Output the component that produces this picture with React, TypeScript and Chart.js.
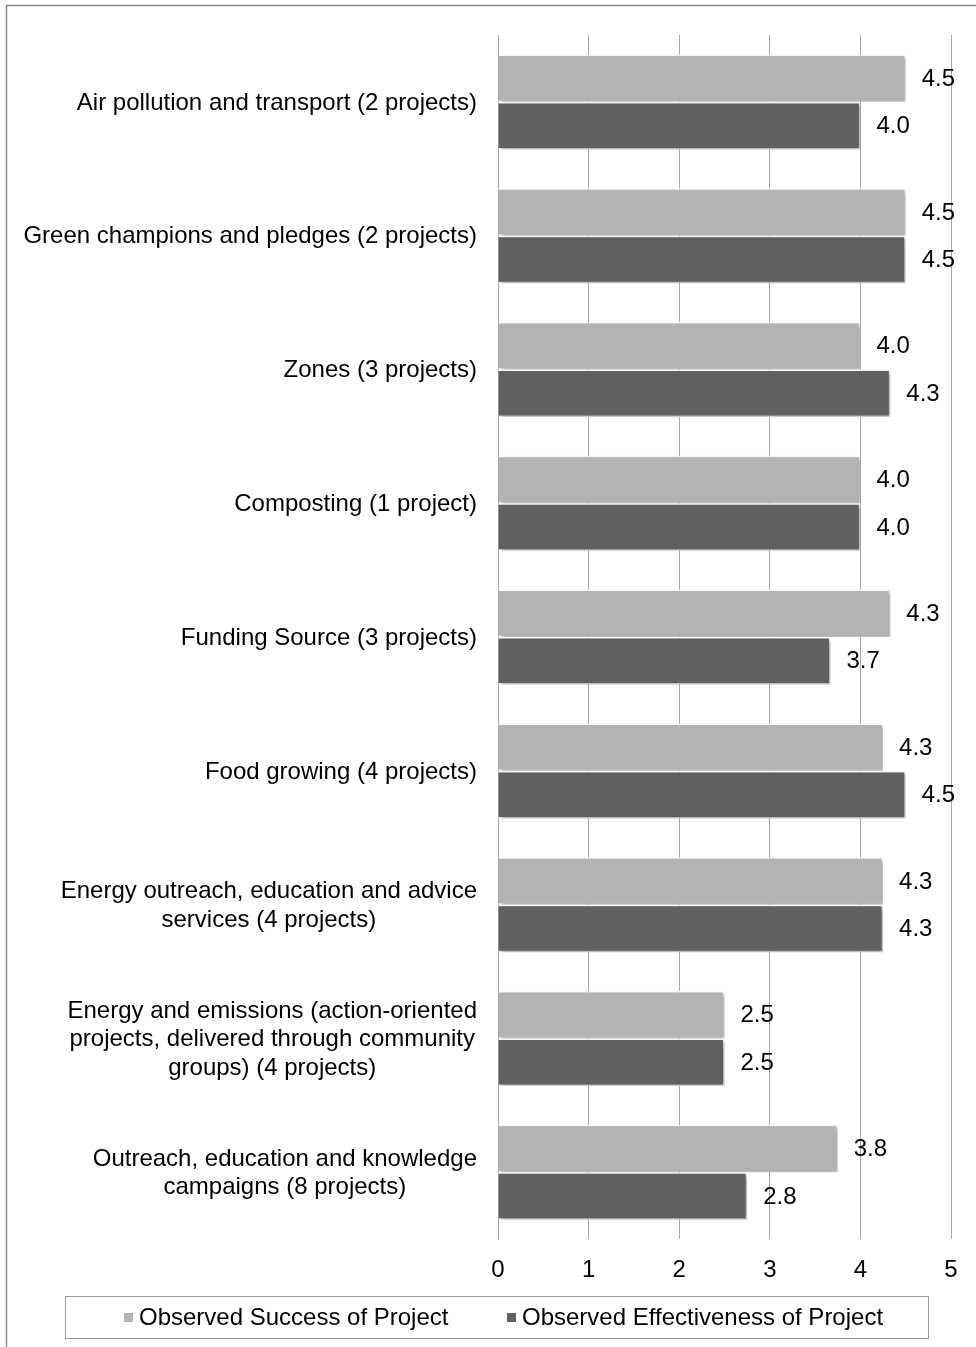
import React, { useEffect, useRef } from "react";
import { Chart, registerables } from "chart.js";

Chart.register(...registerables);

// Category labels, one entry per line of text
const categories: string[][] = [
  ["Air pollution and transport (2 projects)"],
  ["Green champions and pledges (2 projects)"],
  ["Zones (3 projects)"],
  ["Composting (1 project)"],
  ["Funding Source (3 projects)"],
  ["Food growing (4 projects)"],
  ["Energy outreach, education and advice", "services (4 projects)"],
  ["Energy and emissions (action-oriented", "projects, delivered through community", "groups) (4 projects)"],
  ["Outreach, education and knowledge", "campaigns (8 projects)"],
];

const successValues: number[] = [4.5, 4.5, 4.0, 4.0, 4.33, 4.25, 4.25, 2.5, 3.75];
const effectivenessValues: number[] = [4.0, 4.5, 4.33, 4.0, 3.67, 4.5, 4.25, 2.5, 2.75];

const seriesNames: string[] = ["Observed Success of Project", "Observed Effectiveness of Project"];
const seriesColors: string[] = ["#b3b3b3", "#606060"];

const xTicks: number[] = [0, 1, 2, 3, 4, 5];

const FONT = "'Liberation Sans', Arial, Helvetica, sans-serif";
const FONT_SIZE = 24;

// Soft drop shadow behind the bars
const barShadow = {
  id: "barShadow",
  beforeDatasetsDraw(chart: any) {
    const ctx = chart.ctx;
    ctx.save();
    ctx.shadowColor = "rgba(0,0,0,0.35)";
    ctx.shadowBlur = 4;
    ctx.shadowOffsetX = 2;
    ctx.shadowOffsetY = 2;
  },
  afterDatasetsDraw(chart: any) {
    chart.ctx.restore();
  },
};

// Value labels, category labels, legend box and frame
const decorations = {
  id: "decorations",
  afterDraw(chart: any) {
    const ctx = chart.ctx;
    const yScale = chart.scales.y;
    ctx.save();

    // outer frame (top and left edges)
    ctx.strokeStyle = "#8a8a8a";
    ctx.lineWidth = 1.5;
    ctx.beginPath();
    ctx.moveTo(6.5, chart.height + 2);
    ctx.lineTo(6.5, 5.5);
    ctx.lineTo(chart.width + 2, 5.5);
    ctx.stroke();

    // bar value labels
    ctx.font = `${FONT_SIZE}px ${FONT}`;
    ctx.fillStyle = "#000";
    ctx.textAlign = "left";
    ctx.textBaseline = "middle";
    chart.data.datasets.forEach((ds: any, di: number) => {
      const meta = chart.getDatasetMeta(di);
      meta.data.forEach((bar: any, i: number) => {
        const v = ds.data[i] as number;
        ctx.fillText(v.toFixed(1), bar.x + 16, bar.y + 1);
      });
    });

    // category labels: block right-aligned, lines centred within the block
    const lineH = 28.5;
    const rightEdge = chart.chartArea.left - 21;
    categories.forEach((lines, i) => {
      const yc = yScale.getPixelForValue(i) + 1;
      const w = Math.max(...lines.map((l) => ctx.measureText(l).width));
      const cx = rightEdge - w / 2;
      ctx.textAlign = "center";
      lines.forEach((l, k) => {
        const y = yc + (k - (lines.length - 1) / 2) * lineH;
        ctx.fillText(l, cx, y);
      });
    });

    // legend box
    const lx0 = 65.5, lx1 = 928.5, ly0 = 1296.5, ly1 = 1338.5;
    ctx.strokeStyle = "#9a9a9a";
    ctx.lineWidth = 1;
    ctx.strokeRect(lx0, ly0, lx1 - lx0, ly1 - ly0);
    const ly = (ly0 + ly1) / 2;
    const itemX = [124, 507];
    ctx.textAlign = "left";
    seriesNames.forEach((name, k) => {
      ctx.fillStyle = seriesColors[k];
      ctx.fillRect(itemX[k], ly - 4.5, 9, 9);
      ctx.fillStyle = "#000";
      ctx.fillText(name, itemX[k] + 15, ly + 1);
    });

    ctx.restore();
  },
};

export default function App() {
  const canvasRef = useRef<HTMLCanvasElement | null>(null);

  useEffect(() => {
    if (!canvasRef.current) return;
    const chart = new Chart(canvasRef.current, {
      type: "bar",
      data: {
        labels: categories.map((c) => c.join(" ")),
        datasets: [
          {
            label: seriesNames[0],
            data: successValues,
            backgroundColor: seriesColors[0],
            borderColor: "#ffffff",
            borderWidth: 1.5,
            categoryPercentage: 0.71,
            barPercentage: 1,
          },
          {
            label: seriesNames[1],
            data: effectivenessValues,
            backgroundColor: seriesColors[1],
            borderColor: "#ffffff",
            borderWidth: 1.5,
            categoryPercentage: 0.71,
            barPercentage: 1,
          },
        ],
      },
      options: {
        indexAxis: "y",
        animation: false,
        responsive: false,
        maintainAspectRatio: false,
        events: [],
        layout: { padding: { left: 490, top: 35, right: 25, bottom: 45 } },
        plugins: {
          legend: { display: false },
          tooltip: { enabled: false },
        },
        scales: {
          x: {
            min: 0,
            max: 5,
            afterBuildTicks: (axis: any) => {
              axis.ticks = xTicks.map((v) => ({ value: v }));
            },
            grid: { color: "#a6a6a6", lineWidth: 1, drawTicks: false },
            border: { display: false },
            ticks: {
              color: "#000",
              padding: 17,
              font: { family: FONT, size: FONT_SIZE },
            },
          },
          y: {
            grid: { display: false },
            border: { display: true, color: "#a6a6a6", width: 1 },
            ticks: { display: false },
          },
        },
      },
      plugins: [barShadow, decorations],
    } as any);
    return () => chart.destroy();
  }, []);

  return (
    <div style={{ position: "absolute", left: 0, top: 0, width: 976, height: 1347, background: "#fff" }}>
      <canvas ref={canvasRef} width={976} height={1347} style={{ display: "block" }} />
    </div>
  );
}
